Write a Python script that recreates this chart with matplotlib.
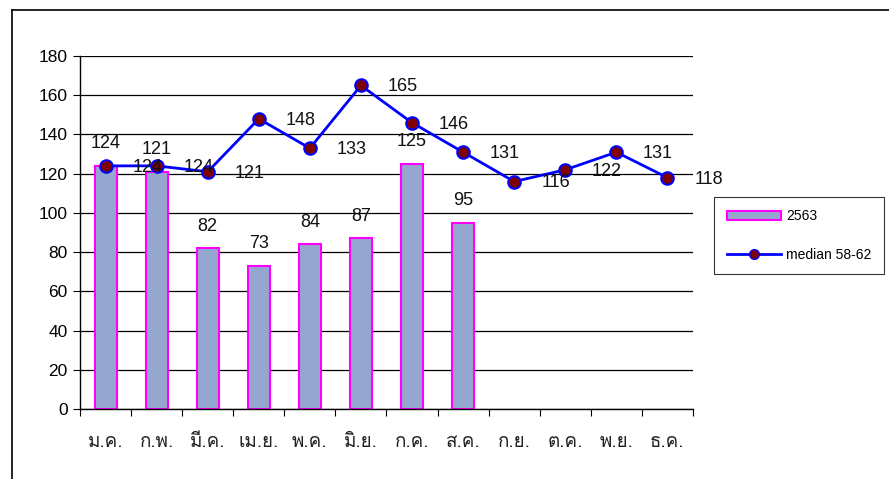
import numpy as np
import matplotlib
matplotlib.use("Agg")
import matplotlib.pyplot as plt
from matplotlib import font_manager
from matplotlib.ft2font import FT2Font
from matplotlib.lines import Line2D
from matplotlib.patches import Patch

months = ['ม.ค.', 'ก.พ.', 'มี.ค.', 'เม.ย.', 'พ.ค.', 'มิ.ย.', 'ก.ค.', 'ส.ค.', 'ก.ย.', 'ต.ค.', 'พ.ย.', 'ธ.ค.']
rain_2563 = [124, 121, 82, 73, 84, 87, 125, 95]
median_58_62 = [124, 124, 121, 148, 133, 165, 146, 131, 116, 122, 131, 118]
yticks = [0, 20, 40, 60, 80, 100, 120, 140, 160, 180]


def find_thai_font():
    # first installed font that can draw Thai
    for f in font_manager.fontManager.ttflist:
        try:
            ft = FT2Font(f.fname)
            if ft.get_char_index(ord('ม')) and ft.get_char_index(ord('ิ')):
                return [f.name]
        except Exception:
            pass
    return []


thai_family = find_thai_font() + ['DejaVu Sans']
plt.rcParams['font.family'] = ['Liberation Sans', 'DejaVu Sans']

fig = plt.figure(figsize=(8.89, 4.79), dpi=100)
ax = fig.add_axes([0.090, 0.146, 0.6895, 0.737])

x = np.arange(len(months))
xb = np.arange(len(rain_2563))
ax.bar(xb, rain_2563, width=0.43, color='#95a7cf', edgecolor='#ff00ff', linewidth=1.5, zorder=2)
ax.plot(x, median_58_62, color='#0000ff', linewidth=2, marker='o', markersize=9,
        markerfacecolor='#7f0000', markeredgecolor='#0000ff', markeredgewidth=1.5, zorder=3)

for xi, v in zip(xb, rain_2563):
    ax.annotate(str(v), (xi, v), xytext=(0, 16), textcoords='offset points',
                ha='center', va='center', fontsize=13, color='#111111', zorder=4)
for xi, v in zip(x, median_58_62):
    ax.annotate(str(v), (xi, v), xytext=(30, -1), textcoords='offset points',
                ha='center', va='center', fontsize=13, color='#111111', zorder=4)

ax.set_ylim(0, 180)
ax.set_yticks(yticks)
ax.set_xlim(-0.5, len(months) - 0.5)
ax.set_xticks(np.arange(-0.5, len(months), 1.0))
ax.set_xticklabels([])
ax.set_xticks(x, minor=True)
ax.set_xticklabels(months, minor=True, family=thai_family, fontsize=13.5, color='#222222')
ax.tick_params(axis='x', which='major', direction='out', length=5, color='black')
ax.tick_params(axis='x', which='minor', length=0, pad=17)
ax.tick_params(axis='y', direction='out', length=5, labelsize=12.5, pad=4)
ax.yaxis.grid(True, color='black', linewidth=0.9)
ax.set_axisbelow(True)
for s in ['top', 'right']:
    ax.spines[s].set_visible(False)
for s in ['left', 'bottom']:
    ax.spines[s].set_linewidth(1.0)

handles = [Patch(facecolor='#95a7cf', edgecolor='#ff00ff', linewidth=1.5),
           Line2D([], [], color='#0000ff', linewidth=2, marker='o', markersize=7,
                  markerfacecolor='#7f0000', markeredgecolor='#0000ff')]
leg = fig.legend(handles, ['2563', 'median 58-62'], loc='upper left',
                 bbox_to_anchor=(714 / 889, 1 - 197 / 479), borderaxespad=0, fontsize=10,
                 frameon=True, fancybox=False, edgecolor='black', handlelength=3.9,
                 handleheight=0.6, handletextpad=0.4, labelspacing=1.75, borderpad=0.9)
leg.get_frame().set_linewidth(0.8)

# outer chart border
fig.add_artist(Line2D([12 / 889, 1], [1 - 10 / 479, 1 - 10 / 479], color='black', linewidth=1.2))
fig.add_artist(Line2D([12 / 889, 12 / 889], [0, 1 - 10 / 479], color='black', linewidth=1.2))

fig.savefig('out.png', dpi=100)
